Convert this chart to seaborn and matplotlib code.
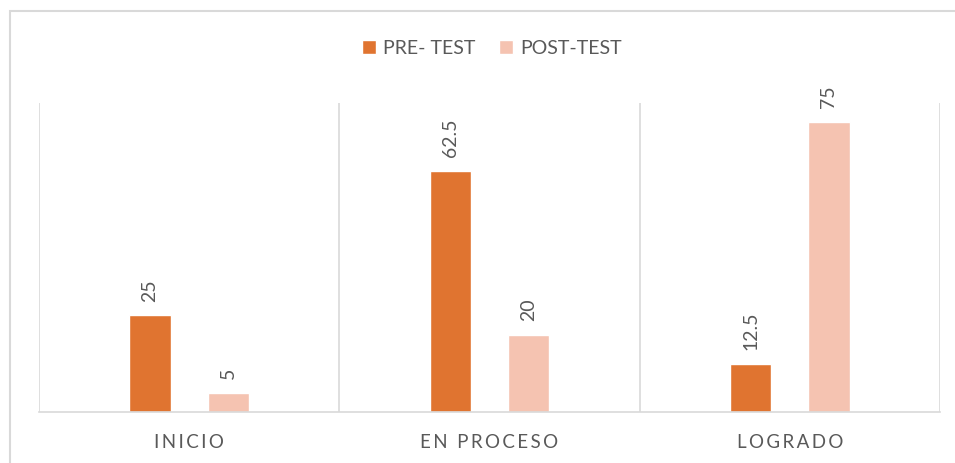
import pandas as pd
import matplotlib.pyplot as plt
import seaborn as sns
from matplotlib.patches import Rectangle

# Datos
categorias = ['INICIO', 'EN PROCESO', 'LOGRADO']
pre_test = [25, 62.5, 12.5]
post_test = [5, 20, 75]
series = ['PRE- TEST', 'POST-TEST']
colores = ['#E07430', '#F5C3B1']
gris_texto = '#595959'
gris_linea = '#D9D9D9'

df = pd.DataFrame({
    'categoria': categorias * 2,
    'valor': pre_test + post_test,
    'serie': [series[0]] * 3 + [series[1]] * 3,
})

sns.set_style('white')
plt.rcParams['font.family'] = ['Lato', 'DejaVu Sans']

fig = plt.figure(figsize=(9.55, 4.63), dpi=100)
ax = fig.add_axes([39 / 955, 51 / 463, 901 / 955, 309 / 463])

sns.barplot(data=df, x='categoria', y='valor', hue='serie', order=categorias,
            hue_order=series, palette=colores, width=0.52, gap=0.47,
            saturation=1, ax=ax)

for cont in ax.containers:
    ax.bar_label(cont, labels=[f'{v:g}' for v in cont.datavalues],
                 rotation=90, padding=10, fontsize=14, color=gris_texto)

ax.set_ylim(0, 80)
ax.set_xlim(-0.5, len(categorias) - 0.5)
ax.set_yticks([])
ax.set_xlabel('')
ax.set_ylabel('')

# líneas verticales entre categorías
for x in [i - 0.5 for i in range(len(categorias) + 1)]:
    ax.axvline(x, color=gris_linea, lw=1.2, zorder=0)

for s in ['top', 'left', 'right']:
    ax.spines[s].set_visible(False)
ax.spines['bottom'].set_color(gris_linea)
ax.spines['bottom'].set_linewidth(1.2)

# espaciado entre letras como en el original
ax.set_xticks(range(len(categorias)))
ax.set_xticklabels(['\u2009'.join(c) for c in categorias], fontsize=13.5,
                   color=gris_texto)
ax.tick_params(axis='x', length=0, pad=16)

ax.legend(loc='center', bbox_to_anchor=(492 / 955, 1 - 48 / 463),
          bbox_transform=fig.transFigure, ncol=2, frameon=False,
          fontsize=14, labelcolor=gris_texto, handlelength=0.7,
          handleheight=0.7, handletextpad=0.4, columnspacing=1.2)

# borde del gráfico
fig.patches.append(Rectangle((10 / 955, -0.05), 1.0, 1.05 - 11 / 463,
                             transform=fig.transFigure, fill=False,
                             edgecolor=gris_linea, lw=1.5))

fig.savefig('out.png', dpi=100)
